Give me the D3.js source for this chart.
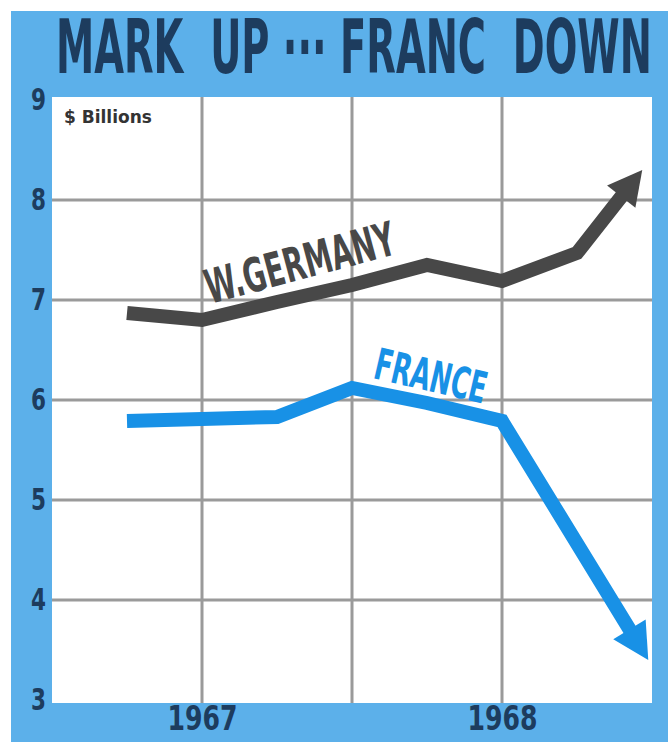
<!DOCTYPE html>
<html><head><meta charset="utf-8">
<script src="https://cdn.jsdelivr.net/npm/d3@7"></script>
<style>body{margin:0;background:#fff}svg{display:block}</style>
</head><body>
<svg id="c" width="668" height="742"></svg>
<script>
// Data (quarters relative to start of 1967; values in $ billions)
const germanyQ = [-1, 0, 1, 2, 3, 4, 5, 5.87];
const germanyV = [6.87, 6.8, 6.98, 7.15, 7.35, 7.19, 7.47, 8.3];
const franceQ  = [-1, 0, 1, 2, 3, 4, 5.95];
const franceV  = [5.79, 5.81, 5.83, 6.12, 5.97, 5.79, 3.4];
const yTicks = [3, 4, 5, 6, 7, 8, 9];
const xTickQ = [0, 4];
const xTickLabels = ["1967", "1968"];
const title = "MARK  UP \u00B7\u00B7\u00B7 FRANC  DOWN";

const svg = d3.select("#c");
const W = 668, H = 742;
const plot = {l: 52, r: 652, t: 97, b: 703};
const x = d3.scaleLinear().domain([-2, 6]).range([plot.l, plot.r]);
const y = d3.scaleLinear().domain([3, 9]).range([700, 100]);
const condensed = "'DejaVu Sans Condensed', 'Liberation Sans Narrow', sans-serif";

// backgrounds
svg.append("rect").attr("x", 11).attr("y", 11).attr("width", W - 11).attr("height", H - 11).attr("fill", "#5cb0ea");
svg.append("rect").attr("x", plot.l).attr("y", plot.t).attr("width", plot.r - plot.l).attr("height", plot.b - plot.t).attr("fill", "#ffffff");

// helper: fit text to a width by horizontal scaling
function fitText(sel, tx, ty, rot, targetW, sy) {
  const len = sel.node().getComputedTextLength();
  sel.attr("transform", `translate(${tx},${ty}) rotate(${rot}) scale(${targetW / len},${sy})`);
}

// title
const t = svg.append("text").attr("x", 0).attr("y", 0)
  .style("font-family", condensed)
  .style("font-weight", "bold").style("font-size", "60px").attr("fill", "#1d3c5e")
  .style("white-space", "pre")
  .text(title);
fitText(t, 56, 73, 0, 596, 1.24);

// grid
const grid = svg.append("g");
grid.selectAll("line.h").data(yTicks.filter(v => v > 3 && v < 9)).join("line")
  .attr("x1", plot.l).attr("x2", plot.r).attr("y1", d => y(d)).attr("y2", d => y(d))
  .attr("stroke", "#9a9a9a").attr("stroke-width", 3);
grid.selectAll("line.v").data([0, 2, 4]).join("line")
  .attr("y1", plot.t).attr("y2", plot.b).attr("x1", d => x(d)).attr("x2", d => x(d))
  .attr("stroke", "#9a9a9a").attr("stroke-width", 3);

// y axis
const yAxis = svg.append("g").attr("transform", `translate(${plot.l - 4},0)`)
  .call(d3.axisLeft(y).tickValues(yTicks).tickSize(0).tickPadding(0).tickFormat(d3.format("d")));
yAxis.select(".domain").remove();
yAxis.selectAll("text").attr("x", -2)
  .attr("textLength", 15).attr("lengthAdjust", "spacingAndGlyphs")
  .style("font-family", condensed)
  .style("font-weight", "bold").style("font-size", "31px").attr("fill", "#1d3c5e");

// x axis
const xAxis = svg.append("g").attr("transform", `translate(0,${plot.b})`)
  .call(d3.axisBottom(x).tickValues(xTickQ).tickSize(0).tickPadding(3).tickFormat((d, i) => xTickLabels[i]));
xAxis.select(".domain").remove();
xAxis.selectAll("text")
  .attr("textLength", 70).attr("lengthAdjust", "spacingAndGlyphs")
  .style("font-family", condensed)
  .style("font-weight", "bold").style("font-size", "34px").attr("fill", "#1d3c5e");

// $ Billions
svg.append("text").attr("x", 64).attr("y", 123)
  .style("font-family", "'DejaVu Sans', sans-serif").style("font-weight", "bold")
  .style("font-size", "17px").attr("fill", "#333").text("$ Billions");

// arrow lines
function arrowLine(qs, vs, color, width, headLen, headW) {
  const pts = qs.map((q, i) => [x(q), y(vs[i])]);
  const n = pts.length;
  const tip = pts[n - 1], prev = pts[n - 2];
  const dx = tip[0] - prev[0], dy = tip[1] - prev[1];
  const len = Math.hypot(dx, dy);
  const ux = dx / len, uy = dy / len;
  const base = [tip[0] - ux * headLen, tip[1] - uy * headLen];
  const linePts = pts.slice(0, n - 1).concat([[base[0] + ux * 2, base[1] + uy * 2]]);
  svg.append("path").attr("d", d3.line()(linePts)).attr("fill", "none")
    .attr("stroke", color).attr("stroke-width", width).attr("stroke-linejoin", "miter");
  const px = -uy, py = ux;
  svg.append("path").attr("d", d3.line()([tip,
    [base[0] + px * headW / 2, base[1] + py * headW / 2],
    [base[0] - px * headW / 2, base[1] - py * headW / 2]]) + "Z").attr("fill", color);
}
arrowLine(germanyQ, germanyV, "#484848", 14, 34, 36);
arrowLine(franceQ, franceV, "#1891e6", 14, 36, 38);

// series labels
const g1 = svg.append("text")
  .style("font-family", condensed)
  .style("font-weight", "bold").style("font-size", "40px").attr("fill", "#484848")
  .text("W.GERMANY");
fitText(g1, 210, 304, -15, 195, 1.18);
const f1 = svg.append("text")
  .style("font-family", condensed)
  .style("font-weight", "bold").style("font-size", "38px").attr("fill", "#1891e6")
  .text("FRANCE");
fitText(f1, 372, 378, 13, 114, 1.15);
</script>
</body></html>
